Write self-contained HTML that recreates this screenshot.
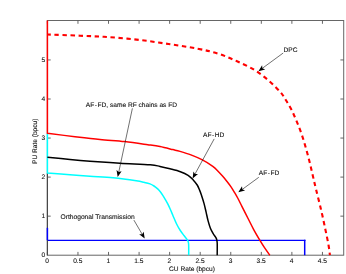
<!DOCTYPE html><html><head><meta charset="utf-8"><style>html,body{margin:0;padding:0;background:#fff}svg{display:block;will-change:transform;opacity:0.999}text{text-rendering:geometricPrecision;font-family:"Liberation Sans",sans-serif;font-size:6.6px;fill:#111;stroke:#111;stroke-width:0.1px}</style></head><body>
<svg width="346" height="274" viewBox="0 0 346 274">
<rect width="346" height="274" fill="#fff"/>
<rect x="47.40" y="20.50" width="296.30" height="234.70" fill="none" stroke="#666" stroke-width="1"/>
<line x1="47.40" y1="255.20" x2="47.40" y2="251.90" stroke="#555" stroke-width="0.9"/>
<line x1="47.40" y1="20.50" x2="47.40" y2="23.80" stroke="#555" stroke-width="0.9"/>
<text x="47.20" y="262.70" text-anchor="middle">0</text>
<line x1="77.96" y1="255.20" x2="77.96" y2="251.90" stroke="#555" stroke-width="0.9"/>
<line x1="77.96" y1="20.50" x2="77.96" y2="23.80" stroke="#555" stroke-width="0.9"/>
<text x="77.76" y="262.70" text-anchor="middle">0.5</text>
<line x1="108.52" y1="255.20" x2="108.52" y2="251.90" stroke="#555" stroke-width="0.9"/>
<line x1="108.52" y1="20.50" x2="108.52" y2="23.80" stroke="#555" stroke-width="0.9"/>
<text x="108.32" y="262.70" text-anchor="middle">1</text>
<line x1="139.08" y1="255.20" x2="139.08" y2="251.90" stroke="#555" stroke-width="0.9"/>
<line x1="139.08" y1="20.50" x2="139.08" y2="23.80" stroke="#555" stroke-width="0.9"/>
<text x="138.88" y="262.70" text-anchor="middle">1.5</text>
<line x1="169.64" y1="255.20" x2="169.64" y2="251.90" stroke="#555" stroke-width="0.9"/>
<line x1="169.64" y1="20.50" x2="169.64" y2="23.80" stroke="#555" stroke-width="0.9"/>
<text x="169.44" y="262.70" text-anchor="middle">2</text>
<line x1="200.20" y1="255.20" x2="200.20" y2="251.90" stroke="#555" stroke-width="0.9"/>
<line x1="200.20" y1="20.50" x2="200.20" y2="23.80" stroke="#555" stroke-width="0.9"/>
<text x="200.00" y="262.70" text-anchor="middle">2.5</text>
<line x1="230.76" y1="255.20" x2="230.76" y2="251.90" stroke="#555" stroke-width="0.9"/>
<line x1="230.76" y1="20.50" x2="230.76" y2="23.80" stroke="#555" stroke-width="0.9"/>
<text x="230.56" y="262.70" text-anchor="middle">3</text>
<line x1="261.32" y1="255.20" x2="261.32" y2="251.90" stroke="#555" stroke-width="0.9"/>
<line x1="261.32" y1="20.50" x2="261.32" y2="23.80" stroke="#555" stroke-width="0.9"/>
<text x="261.12" y="262.70" text-anchor="middle">3.5</text>
<line x1="291.88" y1="255.20" x2="291.88" y2="251.90" stroke="#555" stroke-width="0.9"/>
<line x1="291.88" y1="20.50" x2="291.88" y2="23.80" stroke="#555" stroke-width="0.9"/>
<text x="291.68" y="262.70" text-anchor="middle">4</text>
<line x1="322.44" y1="255.20" x2="322.44" y2="251.90" stroke="#555" stroke-width="0.9"/>
<line x1="322.44" y1="20.50" x2="322.44" y2="23.80" stroke="#555" stroke-width="0.9"/>
<text x="322.24" y="262.70" text-anchor="middle">4.5</text>
<text x="45.10" y="256.90" text-anchor="end">0</text>
<line x1="47.40" y1="216.15" x2="50.70" y2="216.15" stroke="#555" stroke-width="0.9"/>
<line x1="343.70" y1="216.15" x2="340.40" y2="216.15" stroke="#555" stroke-width="0.9"/>
<text x="45.10" y="217.85" text-anchor="end">1</text>
<line x1="47.40" y1="177.10" x2="50.70" y2="177.10" stroke="#555" stroke-width="0.9"/>
<line x1="343.70" y1="177.10" x2="340.40" y2="177.10" stroke="#555" stroke-width="0.9"/>
<text x="45.10" y="178.80" text-anchor="end">2</text>
<line x1="47.40" y1="138.05" x2="50.70" y2="138.05" stroke="#555" stroke-width="0.9"/>
<line x1="343.70" y1="138.05" x2="340.40" y2="138.05" stroke="#555" stroke-width="0.9"/>
<text x="45.10" y="139.75" text-anchor="end">3</text>
<line x1="47.40" y1="99.00" x2="50.70" y2="99.00" stroke="#555" stroke-width="0.9"/>
<line x1="343.70" y1="99.00" x2="340.40" y2="99.00" stroke="#555" stroke-width="0.9"/>
<text x="45.10" y="100.70" text-anchor="end">4</text>
<line x1="47.40" y1="59.95" x2="50.70" y2="59.95" stroke="#555" stroke-width="0.9"/>
<line x1="343.70" y1="59.95" x2="340.40" y2="59.95" stroke="#555" stroke-width="0.9"/>
<text x="45.10" y="61.65" text-anchor="end">5</text>
<path d="M47.40 240.30 L305.45 240.30" fill="none" stroke="#0000ff" stroke-width="1.15"/>
<path d="M304.70 239.75 L304.70 255.20" fill="none" stroke="#0000ff" stroke-width="1.5"/>
<path d="M47.40 172.90 L47.40 255.20" fill="none" stroke="#484848" stroke-width="1.2"/>
<path d="M47.40 227.80 L47.40 240.30" fill="none" stroke="#0000ff" stroke-width="1.5"/>
<path d="M47.40 133.30 L47.40 172.90  C51.17 173.20 62.90 174.15 70.00 174.70 C77.10 175.25 82.82 175.68 90.00 176.20 C97.18 176.72 105.40 177.05 113.10 177.80 C120.80 178.55 131.05 179.95 136.20 180.70 C141.35 181.45 141.70 181.77 144.00 182.30 C146.30 182.83 148.33 183.28 150.00 183.90 C151.67 184.52 152.72 185.17 154.00 186.00 C155.28 186.83 156.62 187.90 157.70 188.90 C158.78 189.90 159.65 190.93 160.50 192.00 C161.35 193.07 161.97 194.00 162.80 195.30 C163.63 196.60 164.65 198.32 165.50 199.80 C166.35 201.28 167.07 202.53 167.90 204.20 C168.73 205.87 169.65 207.88 170.50 209.80 C171.35 211.72 171.98 213.33 173.00 215.70 C174.02 218.07 175.38 221.53 176.60 224.00 C177.82 226.47 179.03 228.53 180.30 230.50 C181.57 232.47 183.03 234.25 184.20 235.80 C185.37 237.35 186.57 238.47 187.30 239.80 C188.03 241.13 188.37 241.23 188.60 243.80 C188.83 246.37 188.68 253.30 188.70 255.20" fill="none" stroke="#00ffff" stroke-width="1.5" stroke-linejoin="round"/>
<path d="M47.40 157.20 C51.17 157.58 62.90 158.83 70.00 159.50 C77.10 160.17 81.67 160.58 90.00 161.20 C98.33 161.82 109.98 162.62 120.00 163.20 C130.02 163.78 143.43 164.17 150.10 164.70 C156.77 165.23 156.68 165.72 160.00 166.40 C163.32 167.08 166.60 167.92 170.00 168.80 C173.40 169.68 177.38 170.62 180.40 171.70 C183.42 172.78 185.97 173.93 188.10 175.30 C190.23 176.67 191.68 178.28 193.20 179.90 C194.72 181.52 196.13 183.30 197.20 185.00 C198.27 186.70 198.90 188.43 199.60 190.10 C200.30 191.77 200.67 192.78 201.40 195.00 C202.13 197.22 203.22 200.55 204.00 203.40 C204.78 206.25 205.42 209.18 206.10 212.10 C206.78 215.02 207.38 218.22 208.10 220.90 C208.82 223.58 209.52 226.02 210.40 228.20 C211.28 230.38 212.42 232.30 213.40 234.00 C214.38 235.70 215.67 236.93 216.30 238.40 C216.93 239.87 217.05 240.00 217.20 242.80 C217.35 245.60 217.20 253.13 217.20 255.20" fill="none" stroke="#000" stroke-width="1.5" stroke-linejoin="round"/>
<path d="M47.40 20.50 L47.40 133.30  C52.00 133.87 66.23 135.67 75.00 136.70 C83.77 137.73 91.72 138.68 100.00 139.50 C108.28 140.32 116.73 140.73 124.70 141.60 C132.67 142.47 141.92 143.87 147.80 144.70 C153.68 145.53 155.83 145.78 160.00 146.60 C164.17 147.42 169.47 148.80 172.80 149.60 C176.13 150.40 176.98 150.52 180.00 151.40 C183.02 152.28 187.25 153.52 190.90 154.90 C194.55 156.28 198.25 157.80 201.90 159.70 C205.55 161.60 210.15 164.42 212.80 166.30 C215.45 168.18 216.18 169.37 217.80 171.00 C219.42 172.63 220.97 174.35 222.50 176.10 C224.03 177.85 225.55 179.67 227.00 181.50 C228.45 183.33 229.93 185.25 231.20 187.10 C232.47 188.95 233.52 190.78 234.60 192.60 C235.68 194.42 236.48 195.72 237.70 198.00 C238.92 200.28 240.22 202.97 241.90 206.30 C243.58 209.63 245.83 214.12 247.80 218.00 C249.77 221.88 251.65 225.82 253.70 229.60 C255.75 233.38 258.30 237.68 260.10 240.70 C261.90 243.72 262.88 245.28 264.50 247.70 C266.12 250.12 268.92 253.95 269.80 255.20" fill="none" stroke="#ff0000" stroke-width="1.5" stroke-linejoin="round"/>
<path d="M47.40 34.50 C52.83 34.70 69.57 35.25 80.00 35.70 C90.43 36.15 100.13 36.50 110.00 37.20 C119.87 37.90 129.45 38.77 139.20 39.90 C148.95 41.03 158.75 42.53 168.50 44.00 C178.25 45.47 189.42 47.08 197.70 48.70 C205.98 50.32 211.73 51.65 218.20 53.70 C224.67 55.75 230.42 58.27 236.50 61.00 C242.58 63.73 249.23 66.75 254.70 70.10 C260.17 73.45 265.03 77.45 269.30 81.10 C273.57 84.75 277.55 88.85 280.30 92.00 C283.05 95.15 283.90 96.97 285.80 100.00 C287.70 103.03 289.85 106.55 291.70 110.20 C293.55 113.85 295.20 117.77 296.90 121.90 C298.60 126.03 300.33 130.38 301.90 135.00 C303.47 139.62 304.98 144.97 306.30 149.60 C307.62 154.23 308.68 158.32 309.80 162.80 C310.92 167.28 311.95 172.02 313.00 176.50 C314.05 180.98 314.77 184.22 316.10 189.70 C317.43 195.18 319.47 202.83 321.00 209.40 C322.53 215.97 324.03 223.08 325.30 229.10 C326.57 235.12 327.83 241.15 328.60 245.50 C329.37 249.85 329.68 253.58 329.90 255.20" fill="none" stroke="#ff0000" stroke-width="2.1" stroke-dasharray="4.4 3.6" stroke-dashoffset="0.9"/>
<text x="85.8" y="106.8">AF<tspan dx="0.55">-</tspan><tspan dx="0.55">FD, same</tspan> RF chains as FD</text>
<line x1="132.40" y1="108.30" x2="118.75" y2="172.11" stroke="#111" stroke-width="0.6"/><polygon points="117.70,177.00 116.52,170.10 118.75,172.11 121.60,171.19" fill="#000"/>
<text x="203.0" y="136.7">AF<tspan dx="0.55">-</tspan><tspan dx="0.55">HD</tspan></text>
<line x1="214.20" y1="138.90" x2="195.00" y2="174.01" stroke="#111" stroke-width="0.6"/><polygon points="192.60,178.40 193.44,171.45 195.00,174.01 198.00,173.94" fill="#000"/>
<text x="258.8" y="174.9">AF<tspan dx="0.55">-</tspan><tspan dx="0.55">FD</tspan></text>
<line x1="258.80" y1="177.30" x2="242.34" y2="189.35" stroke="#111" stroke-width="0.6"/><polygon points="238.30,192.30 242.01,186.36 242.34,189.35 245.08,190.56" fill="#000"/>
<text x="283.6" y="51.9">DPC</text>
<line x1="283.20" y1="53.00" x2="262.43" y2="68.24" stroke="#111" stroke-width="0.6"/><polygon points="258.40,71.20 262.10,65.26 262.43,68.24 265.18,69.45" fill="#000"/>
<text x="60.5" y="219.0" style="font-size:6.68px">Orthogonal Transmission</text>
<line x1="133.90" y1="220.10" x2="142.18" y2="234.28" stroke="#111" stroke-width="0.6"/><polygon points="144.70,238.60 139.18,234.30 142.18,234.28 143.67,231.68" fill="#000"/>
<text x="192" y="271.3" text-anchor="middle">CU Rate (bpcu)</text>
<text transform="translate(37.1,141.3) rotate(-90)" text-anchor="middle">PU Rate (bpcu)</text>
</svg></body></html>
